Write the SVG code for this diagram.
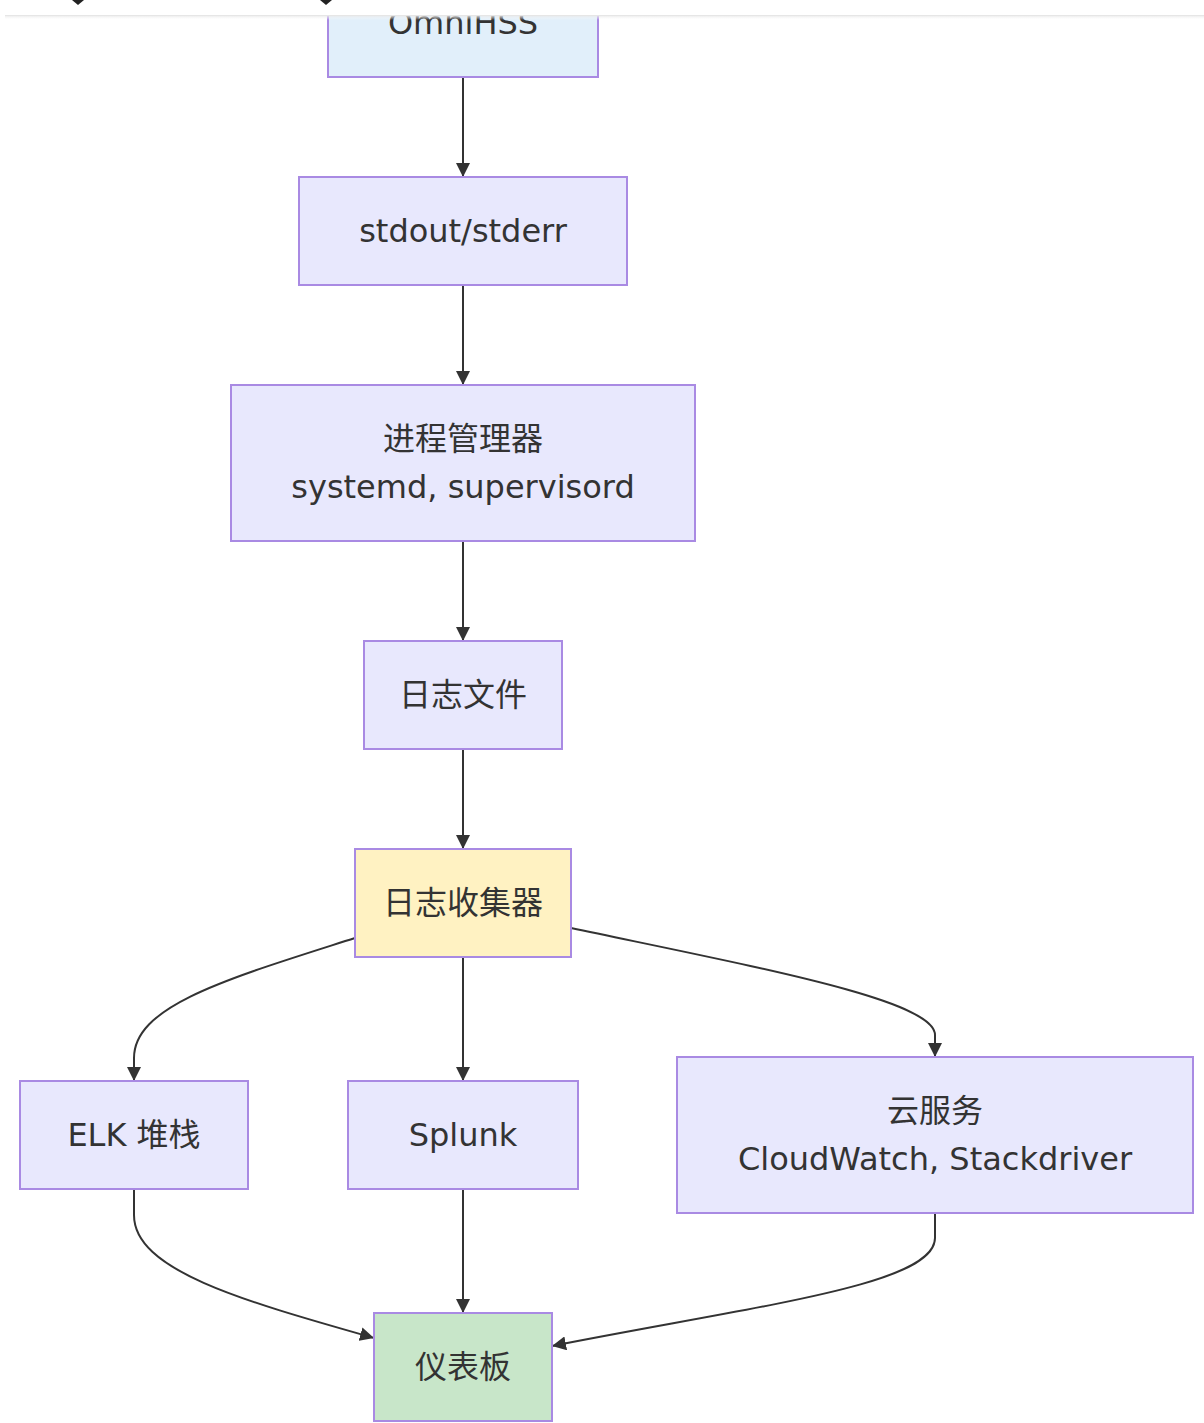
<svg xmlns="http://www.w3.org/2000/svg" width="1204" height="1423" viewBox="0 0 1204 1423">
<style>
.node rect{stroke:#a98ae3;stroke-width:2;}
.default rect{fill:#e8e8fd;}
.node text{font-family:"DejaVu Sans","Noto Sans CJK SC",sans-serif;font-size:32px;fill:#333;text-anchor:middle;dominant-baseline:central;}
.edges path{fill:none;stroke:#333;stroke-width:2;}
</style>
<defs>
<marker id="arr" markerUnits="userSpaceOnUse" markerWidth="14" markerHeight="14" refX="14" refY="7" orient="auto">
<path d="M0,0 L14,7 L0,14 z" fill="#333"/>
</marker>
<linearGradient id="shadow" x1="0" y1="0" x2="0" y2="1">
<stop offset="0" stop-color="#e4e4e4"/>
<stop offset="1" stop-color="#ffffff" stop-opacity="0"/>
</linearGradient>
</defs>
<rect width="1204" height="1423" fill="#ffffff"/>
<g class="edges">
<path d="M463,77 L463,177" marker-end="url(#arr)"/>
<path d="M463,285 L463,385" marker-end="url(#arr)"/>
<path d="M463,541 L463,641" marker-end="url(#arr)"/>
<path d="M463,749 L463,849" marker-end="url(#arr)"/>
<path d="M355,938 C230,978 134,1005 134,1058 L134,1081" marker-end="url(#arr)"/>
<path d="M463,957 L463,1081" marker-end="url(#arr)"/>
<path d="M571,928 C760,968 935,1000 935,1035 L935,1057" marker-end="url(#arr)"/>
<path d="M134,1189 L134,1215 C134,1270 240,1300 374,1338" marker-end="url(#arr)"/>
<path d="M463,1189 L463,1313" marker-end="url(#arr)"/>
<path d="M935,1213 L935,1238 C935,1285 760,1305 552,1346" marker-end="url(#arr)"/>
</g>
<g id="omnihss" class="node"><rect x="328" y="-31" width="270" height="108" fill="#e1effa"/><text x="463" y="23">OmniHSS</text></g>
<g id="stdout" class="node default"><rect x="299" y="177" width="328" height="108"/><text x="463" y="231">stdout/stderr</text></g>
<g id="procmgr" class="node default"><rect x="231" y="385" width="464" height="156"/><text x="463" y="439">进程管理器</text><text x="463" y="487">systemd, supervisord</text></g>
<g id="logfile" class="node default"><rect x="364" y="641" width="198" height="108"/><text x="463" y="695">日志文件</text></g>
<g id="collector" class="node"><rect x="355" y="849" width="216" height="108" fill="#fff2c2"/><text x="463" y="903">日志收集器</text></g>
<g id="elk" class="node default"><rect x="20" y="1081" width="228" height="108"/><text x="134" y="1135">ELK 堆栈</text></g>
<g id="splunk" class="node default"><rect x="348" y="1081" width="230" height="108"/><text x="463" y="1135">Splunk</text></g>
<g id="cloud" class="node default"><rect x="677" y="1057" width="516" height="156"/><text x="935" y="1111">云服务</text><text x="935" y="1159">CloudWatch, Stackdriver</text></g>
<g id="final" class="node"><rect x="374" y="1313" width="178" height="108" fill="#c8e6c9"/><text x="463" y="1367">仪表板</text></g>
<g id="header">
<rect x="0" y="0" width="1204" height="15" fill="#ffffff"/>
<rect x="5" y="15" width="1199" height="5" fill="url(#shadow)"/>
<line x1="5" y1="15.5" x2="1204" y2="15.5" stroke="#e6e6e6" stroke-width="1"/>
<polygon points="72,0 84,0 78,5" fill="#222"/>
<polygon points="320,0 332,0 326,5" fill="#222"/>
</g>
</svg>
